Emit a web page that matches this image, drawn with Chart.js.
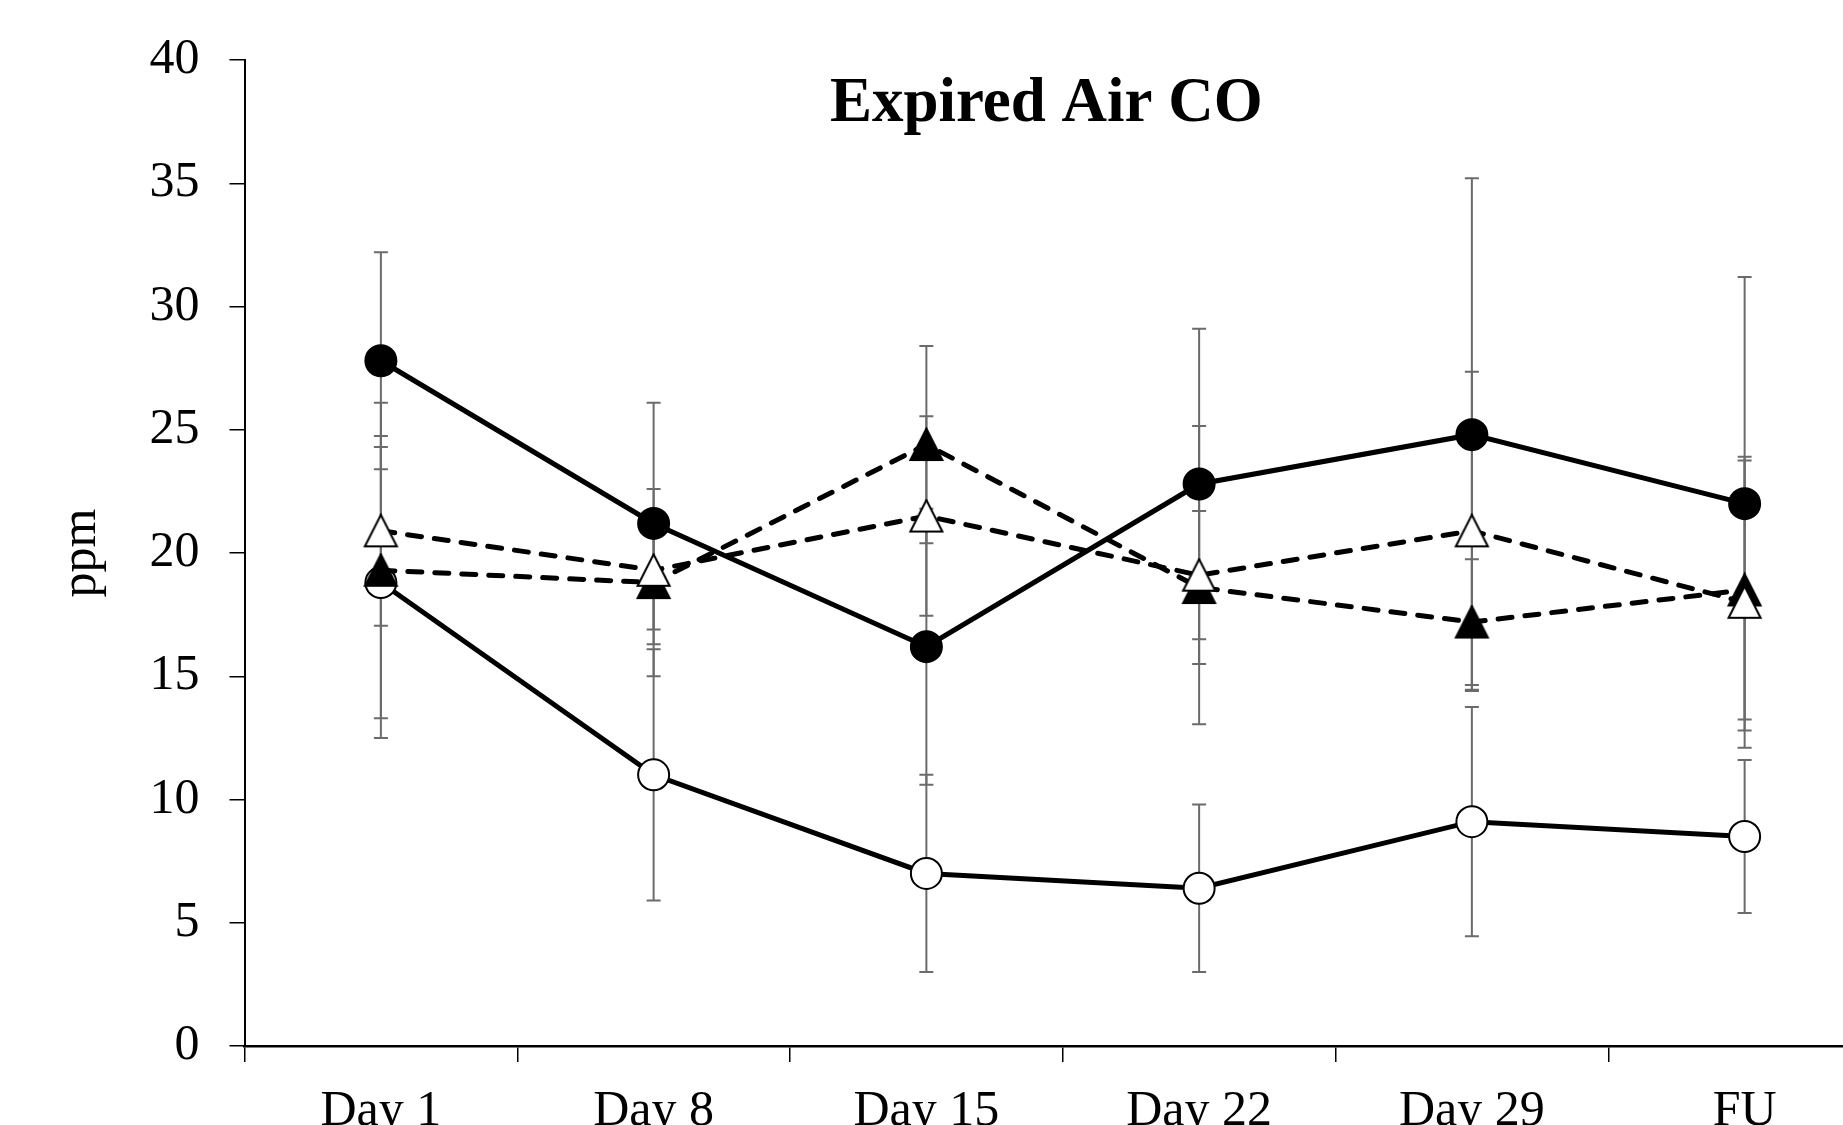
<!DOCTYPE html>
<html>
<head>
<meta charset="utf-8">
<script src="https://cdn.jsdelivr.net/npm/chart.js@4/dist/chart.umd.min.js"></script>
<style>
  html, body { margin: 0; padding: 0; background: #fff; overflow: hidden; }
  #wrap { position: absolute; left: 0; top: 0; width: 1881px; height: 1160px; }
</style>
</head>
<body>
<div id="wrap"><canvas id="myChart" width="1881" height="1160"></canvas></div>
<script>
const labels = ['Day 1', 'Day 8', 'Day 15', 'Day 22', 'Day 29', 'FU'];
const yTicks = [0, 5, 10, 15, 20, 25, 30, 35, 40];

const filledCircle   = [27.8, 21.2, 16.2, 22.8, 24.8, 22.0];
const filledCircleSD = [4.4, 4.9, 5.6, 6.3, 10.4, 9.2];
const openCircle     = [18.8, 11.0, 7.0, 6.4, 9.1, 8.5];
const openCircleSD   = [5.5, 5.1, 4.0, 3.4, 4.65, 3.1];
const filledTri      = [19.3, 18.8, 24.4, 18.6, 17.2, 18.5];
const filledTriSD    = [6.8, 3.8, 4.0, 3.1, 2.55, 5.25];
const openTri        = [20.9, 19.3, 21.5, 19.1, 20.9, 18.0];
const openTriSD      = [3.85, 2.4, 4.05, 6.05, 6.45, 5.9];

const serif = '"Liberation Serif", "Times New Roman", serif';

// triangle marker centred on its box, like the spreadsheet ones
function triMarker(fill) {
    const c = document.createElement('canvas');
    c.width = 37; c.height = 35;
    const g = c.getContext('2d');
    g.beginPath();
    g.moveTo(18.5, 1.5);
    g.lineTo(34.5, 33);
    g.lineTo(2.5, 33);
    g.closePath();
    g.fillStyle = fill;
    g.fill();
    g.lineWidth = 2;
    g.lineJoin = 'miter';
    g.strokeStyle = '#000';
    g.stroke();
    return c;
}

const errorBars = {
    id: 'errorBars',
    beforeDatasetsDraw(chart) {
        const ctx = chart.ctx;
        const y = chart.scales.y;
        ctx.save();
        ctx.strokeStyle = '#6b6b6b';
        ctx.lineWidth = 2;
        chart.data.datasets.forEach((ds, di) => {
            const meta = chart.getDatasetMeta(di);
            ds.sd.forEach((e, i) => {
                const px = meta.data[i].x;
                const top = y.getPixelForValue(ds.data[i] + e);
                const bot = y.getPixelForValue(ds.data[i] - e);
                ctx.beginPath();
                ctx.moveTo(px, top); ctx.lineTo(px, bot);
                ctx.moveTo(px - 7, top); ctx.lineTo(px + 7, top);
                ctx.moveTo(px - 7, bot); ctx.lineTo(px + 7, bot);
                ctx.stroke();
            });
        });
        ctx.restore();
    }
};

const titleText = {
    id: 'titleText',
    afterDraw(chart) {
        const ctx = chart.ctx;
        const a = chart.chartArea;
        ctx.save();
        ctx.font = 'bold 63px ' + serif;
        ctx.fillStyle = '#000';
        ctx.textAlign = 'center';
        ctx.textBaseline = 'alphabetic';
        ctx.fillText('Expired Air CO', a.left + (a.right - a.left) * 0.49, a.top + 61);
        ctx.restore();
    }
};

function series(data, sd, marker, fill, dashed, order) {
    return {
        data: data,
        sd: sd,
        order: order,
        borderColor: '#000',
        borderWidth: 5,
        borderDash: dashed ? [14, 13] : [],
        borderCapStyle: dashed ? 'round' : 'butt',
        tension: 0,
        fill: false,
        pointStyle: marker,
        pointRadius: 15.5,
        pointBackgroundColor: fill,
        pointBorderColor: '#000',
        pointBorderWidth: 2
    };
}

const ctx = document.getElementById('myChart');
new Chart(ctx, {
    type: 'line',
    data: {
        labels: labels,
        datasets: [
            series(filledCircle, filledCircleSD, 'circle', '#000', false, 4),
            series(openCircle, openCircleSD, 'circle', '#fff', false, 3),
            series(filledTri, filledTriSD, triMarker('#000'), '#000', true, 2),
            series(openTri, openTriSD, triMarker('#fff'), '#fff', true, 1)
        ]
    },
    options: {
        responsive: false,
        animation: false,
        devicePixelRatio: 1,
        layout: { autoPadding: false, padding: { top: 55, left: 0, right: 0, bottom: 0 } },
        plugins: { legend: { display: false }, tooltip: { enabled: false } },
        scales: {
            x: {
                offset: true,
                border: { color: '#000', width: 2.5 },
                grid: { offset: true, drawOnChartArea: false, color: '#000', lineWidth: 1.5, tickLength: 16 },
                ticks: { color: '#000', font: { family: serif, size: 50 }, padding: 20, maxRotation: 0 },
                afterFit(scale) { scale.height = 114; }
            },
            y: {
                min: 0,
                max: 40,
                afterBuildTicks(scale) { scale.ticks = yTicks.map(v => ({ value: v })); },
                border: { color: '#000', width: 2 },
                grid: { drawOnChartArea: false, color: '#000', lineWidth: 1.5, tickLength: 15 },
                ticks: { color: '#000', font: { family: serif, size: 50 }, padding: 30 },
                title: { display: true, text: 'ppm', color: '#000', font: { family: serif, size: 50 }, padding: { top: 52, bottom: 0 } },
                afterFit(scale) { scale.width = 244.5; }
            }
        }
    },
    plugins: [errorBars, titleText]
});
</script>
</body>
</html>
